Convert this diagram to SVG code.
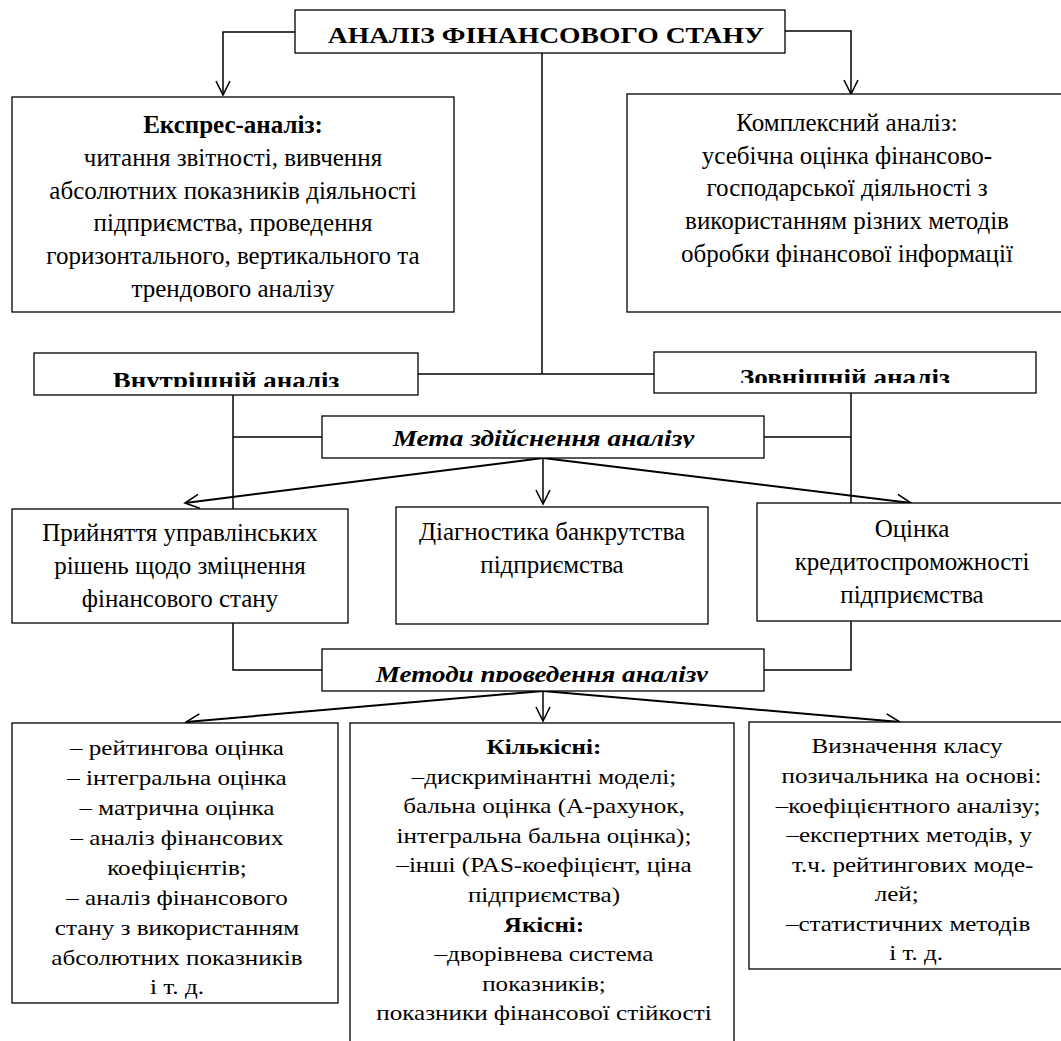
<svg xmlns="http://www.w3.org/2000/svg" width="1061" height="1041" viewBox="0 0 1061 1041">
<style>
.box{fill:#fff;stroke:#000;stroke-width:1.3}
.ln{fill:none;stroke:#000;stroke-width:1.5}
.dg{fill:none;stroke:#000;stroke-width:2}
text{fill:#000;text-anchor:middle}
.t{font-size:25px}
.s{font-size:22px}
.h{font-size:24px;font-weight:bold}
.b{font-weight:bold}
.bi{font-size:24px;font-weight:bold;font-style:italic}
</style>
<defs>
<marker id="ah" markerUnits="userSpaceOnUse" markerWidth="20" markerHeight="20" viewBox="-16 -10 20 20" refX="0" refY="0" orient="auto">
<path d="M-14,-7 L0,0 L-14,7" fill="none" stroke="#000" stroke-width="1.6"/>
</marker>
<clipPath id="c1"><rect x="34" y="353" width="384" height="34"/></clipPath>
<clipPath id="c2"><rect x="654" y="352" width="382" height="31"/></clipPath>
<clipPath id="c3"><rect x="322" y="416" width="442" height="32"/></clipPath>
<clipPath id="c4"><rect x="322" y="649" width="442" height="33"/></clipPath>
</defs>

<g id="connectors">
<polyline class="ln" points="295,32 223,32 223,95" marker-end="url(#ah)"/>
<polyline class="ln" points="785,31 851,31 851,94" marker-end="url(#ah)"/>
<line class="ln" x1="542" y1="53" x2="542" y2="374"/>
<line class="ln" x1="418" y1="374" x2="654" y2="374"/>
<line class="ln" x1="233" y1="395" x2="233" y2="509"/>
<line class="ln" x1="233" y1="437" x2="322" y2="437"/>
<line class="ln" x1="851" y1="393" x2="851" y2="503"/>
<line class="ln" x1="764" y1="437" x2="851" y2="437"/>
<line class="dg" x1="543" y1="458" x2="185" y2="503" marker-end="url(#ah)"/>
<line class="ln" x1="543" y1="458" x2="543" y2="504" marker-end="url(#ah)"/>
<line class="dg" x1="543" y1="458" x2="911" y2="503" marker-end="url(#ah)"/>
<polyline class="ln" points="233,623 233,670 322,670"/>
<polyline class="ln" points="851,621 851,670 764,670"/>
<line class="dg" x1="543" y1="691" x2="186" y2="722" marker-end="url(#ah)"/>
<line class="ln" x1="543" y1="691" x2="543" y2="721" marker-end="url(#ah)"/>
<line class="dg" x1="543" y1="691" x2="900" y2="722" marker-end="url(#ah)"/>
</g>

<g font-family="Liberation Serif, Times New Roman, DejaVu Serif, serif">
<g id="title">
<rect class="box" x="295" y="10" width="490" height="43"/>
<text class="h" x="546" y="43" transform="matrix(1.15,0,0,1,-81.9,0)">АНАЛІЗ ФІНАНСОВОГО СТАНУ</text>
</g>

<g id="express">
<rect class="box" x="12" y="97" width="442" height="215"/>
<text class="t b" x="233" y="133">Експрес-аналіз:</text>
<text class="t" x="233" y="166">читання звітності, вивчення</text>
<text class="t" x="233" y="199">абсолютних показників діяльності</text>
<text class="t" x="233" y="231">підприємства, проведення</text>
<text class="t" x="233" y="264">горизонтального, вертикального та</text>
<text class="t" x="233" y="297">трендового аналізу</text>
</g>

<g id="complex">
<rect class="box" x="627" y="94" width="440" height="218"/>
<text class="t" x="847" y="131">Комплексний аналіз:</text>
<text class="t" x="847" y="164">усебічна оцінка фінансово-</text>
<text class="t" x="847" y="196">господарської діяльності з</text>
<text class="t" x="847" y="229">використанням різних методів</text>
<text class="t" x="847" y="262">обробки фінансової інформації</text>
</g>

<g id="internal">
<rect class="box" x="34" y="353" width="384" height="42"/>
<g clip-path="url(#c1)"><text class="h" x="226" y="388" transform="matrix(1.12,0,0,1,-27.12,0)">Внутрішній аналіз</text></g>
</g>

<g id="external">
<rect class="box" x="654" y="352" width="382" height="41"/>
<g clip-path="url(#c2)"><text class="h" x="845" y="385" transform="matrix(1.13,0,0,1,-109.85,0)">Зовнішній аналіз</text></g>
</g>

<g id="goal">
<rect class="box" x="322" y="416" width="442" height="42"/>
<g clip-path="url(#c3)"><text class="bi" x="543.5" y="446" transform="matrix(1.14,0,0,1,-76.09,0)">Мета здійснення аналізу</text></g>
</g>

<g id="decisions">
<rect class="box" x="12" y="509" width="336" height="114"/>
<text class="t" x="180" y="541">Прийняття управлінських</text>
<text class="t" x="180" y="574">рішень щодо зміцнення</text>
<text class="t" x="180" y="607">фінансового стану</text>
</g>

<g id="bankruptcy">
<rect class="box" x="396" y="507" width="312" height="117"/>
<text class="t" x="552" y="540">Діагностика банкрутства</text>
<text class="t" x="552" y="573">підприємства</text>
</g>

<g id="credit">
<rect class="box" x="757" y="503" width="310" height="118"/>
<text class="t" x="912" y="537">Оцінка</text>
<text class="t" x="912" y="570">кредитоспроможності</text>
<text class="t" x="912" y="603">підприємства</text>
</g>

<g id="methods">
<rect class="box" x="322" y="649" width="442" height="42"/>
<g clip-path="url(#c4)"><text class="bi" x="542" y="682" transform="matrix(1.13,0,0,1,-70.46,0)">Методи проведення аналізу</text></g>
</g>

<g id="methods-left">
<rect class="box" x="12" y="723" width="326" height="280"/>
<g transform="matrix(1.14,0,0,1,-24.78,0)">
<text class="s" x="177" y="755">– рейтингова оцінка</text>
<text class="s" x="177" y="785">– інтегральна оцінка</text>
<text class="s" x="177" y="815">– матрична оцінка</text>
<text class="s" x="177" y="845">– аналіз фінансових</text>
<text class="s" x="177" y="875">коефіцієнтів;</text>
<text class="s" x="177" y="905">– аналіз фінансового</text>
<text class="s" x="177" y="935">стану з використанням</text>
<text class="s" x="177" y="965">абсолютних показників</text>
<text class="s" x="177" y="994">і т. д.</text>
</g>
</g>

<g id="methods-center">
<rect class="box" x="350" y="723" width="384" height="330"/>
<g transform="matrix(1.14,0,0,1,-76.16,0)">
<text class="s b" x="544" y="754">Кількісні:</text>
<text class="s" x="544" y="784">–дискримінантні моделі;</text>
<text class="s" x="544" y="813">бальна оцінка (А-рахунок,</text>
<text class="s" x="544" y="843">інтегральна бальна оцінка);</text>
<text class="s" x="544" y="872">–інші (PAS-коефіцієнт, ціна</text>
<text class="s" x="544" y="902">підприємства)</text>
<text class="s b" x="544" y="932">Якісні:</text>
<text class="s" x="544" y="961">–дворівнева система</text>
<text class="s" x="544" y="991">показників;</text>
<text class="s" x="544" y="1020">показники фінансової стійкості</text>
</g>
</g>

<g id="methods-right">
<rect class="box" x="749" y="722" width="318" height="247"/>
<g transform="matrix(1.14,0,0,1,-126.98,0)">
<text class="s" x="907" y="753">Визначення класу</text>
<text class="s" x="911" y="783">позичальника на основі:</text>
<text class="s" x="908" y="813">–коефіцієнтного аналізу;</text>
<text class="s" x="909" y="842">–експертних методів, у</text>
<text class="s" x="912" y="872">т.ч. рейтингових моде-</text>
<text class="s" x="898" y="901">лей;</text>
<text class="s" x="908" y="931">–статистичних методів</text>
<text class="s" x="915" y="960">і т. д.</text>
</g>
</g>
</g>
</svg>
